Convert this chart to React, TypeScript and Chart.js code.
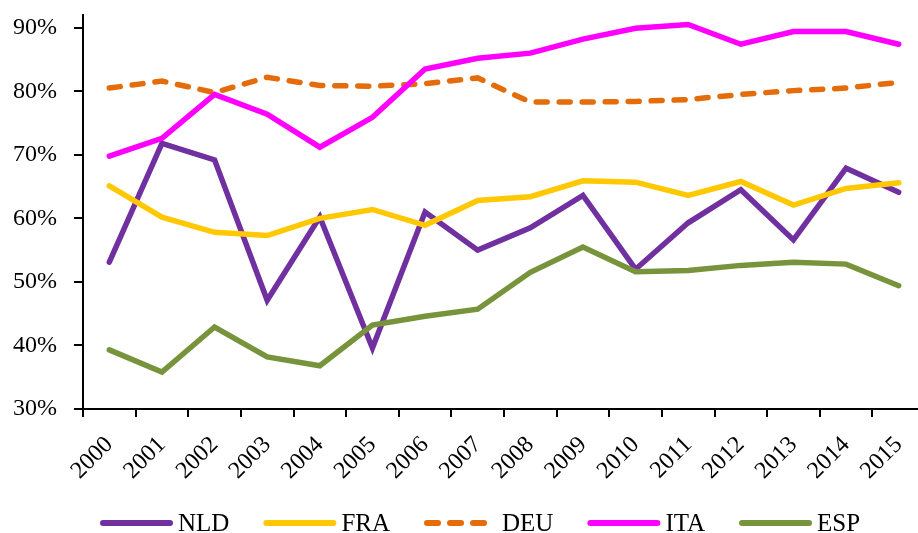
import React, { useEffect, useRef } from 'react';
import { Chart, registerables } from 'chart.js';

Chart.register(...registerables);

const years = ['2000', '2001', '2002', '2003', '2004', '2005', '2006', '2007', '2008', '2009', '2010', '2011', '2012', '2013', '2014', '2015'];
const nld = [53.1, 71.8, 69.2, 47.1, 60.2, 39.6, 61.0, 55.0, 58.5, 63.6, 52.0, 59.3, 64.5, 56.6, 67.9, 64.1];
const fra = [65.1, 60.2, 57.8, 57.3, 60.0, 61.4, 58.9, 62.8, 63.4, 65.9, 65.7, 63.6, 65.8, 62.1, 64.7, 65.6];
const deu = [80.5, 81.6, 79.8, 82.2, 80.9, 80.8, 81.2, 82.1, 78.3, 78.3, 78.4, 78.7, 79.5, 80.1, 80.5, 81.4];
const ita = [69.8, 72.6, 79.5, 76.4, 71.2, 75.9, 83.5, 85.2, 86.0, 88.2, 89.9, 90.5, 87.4, 89.4, 89.4, 87.4];
const esp = [39.3, 35.8, 42.9, 38.2, 36.8, 43.2, 44.6, 45.7, 51.5, 55.5, 51.6, 51.8, 52.6, 53.1, 52.8, 49.4];
const yTickValues = [30, 40, 50, 60, 70, 80, 90];

const FONT = '"Liberation Serif", "Times New Roman", serif';

const legendPlugin = {
  id: 'customLegend',
  afterDraw(chart: any) {
    const ctx = chart.ctx;
    ctx.save();
    ctx.font = `25px ${FONT}`;
    ctx.textBaseline = 'middle';
    ctx.fillStyle = '#000';
    const y = 523;
    let x = 100;
    chart.data.datasets.forEach((ds: any) => {
      ctx.beginPath();
      ctx.strokeStyle = ds.borderColor;
      ctx.lineWidth = 6;
      ctx.lineCap = 'round';
      ctx.setLineDash(ds.borderDash && ds.borderDash.length ? [11, 12] : []);
      ctx.moveTo(x + 3, y);
      ctx.lineTo(x + 70, y);
      ctx.stroke();
      ctx.setLineDash([]);
      const tx = x + 78;
      ctx.fillText(ds.label, tx, y + 1);
      x = tx + ctx.measureText(ds.label).width + 34;
    });
    ctx.restore();
  },
};

export default function App() {
  const ref = useRef<HTMLCanvasElement | null>(null);
  useEffect(() => {
    document.body.style.margin = '0';
    if (!ref.current) return;
    const common = {
      borderWidth: 5.5,
      pointRadius: 0,
      pointHoverRadius: 0,
      tension: 0,
      fill: false,
      borderCapStyle: 'round' as const,
    };
    const chart = new Chart(ref.current, {
      type: 'line',
      data: {
        labels: years,
        datasets: [
          { ...common, label: 'NLD', data: nld, borderColor: '#7030A0', backgroundColor: '#7030A0', order: 5 },
          { ...common, label: 'FRA', data: fra, borderColor: '#FFC800', backgroundColor: '#FFC800', order: 4 },
          { ...common, label: 'DEU', data: deu, borderColor: '#E46C0A', backgroundColor: '#E46C0A', borderDash: [11, 12], order: 3 },
          { ...common, label: 'ITA', data: ita, borderColor: '#FF00FF', backgroundColor: '#FF00FF', order: 2 },
          { ...common, label: 'ESP', data: esp, borderColor: '#77933C', backgroundColor: '#77933C', order: 1 },
        ],
      },
      options: {
        animation: false,
        responsive: false,
        layout: { padding: { top: 15, right: 0, left: 0, bottom: 0 } },
        plugins: { legend: { display: false }, tooltip: { enabled: false } },
        scales: {
          x: {
            type: 'category',
            offset: true,
            grid: { display: true, drawOnChartArea: false, drawTicks: true, tickLength: 8, color: '#000', lineWidth: 2, offset: true },
            border: { display: true, color: '#000', width: 2 },
            ticks: { color: '#000', font: { family: FONT, size: 24 }, minRotation: 45, maxRotation: 45, padding: 14, autoSkip: false },
            afterFit: (s: any) => { s.height = 124; s.paddingLeft = 0; s.paddingRight = 0; },
          },
          y: {
            min: 30,
            max: 92,
            grid: { display: true, drawOnChartArea: false, drawTicks: true, tickLength: 9, color: '#000', lineWidth: 2 },
            border: { display: true, color: '#000', width: 2 },
            afterBuildTicks: (s: any) => { s.ticks = yTickValues.map((v) => ({ value: v })); },
            ticks: { color: '#000', font: { family: FONT, size: 24 }, padding: 17, callback: (v: any) => `${v}%` },
            afterFit: (s: any) => { s.width = 83; s.paddingTop = 0; s.paddingBottom = 0; },
          },
        },
      },
      plugins: [legendPlugin],
    });
    return () => chart.destroy();
  }, []);
  return (
    <div style={{ width: 918, height: 533, overflow: 'hidden' }}>
      <canvas ref={ref} width={925} height={533} style={{ display: 'block' }} />
    </div>
  );
}
